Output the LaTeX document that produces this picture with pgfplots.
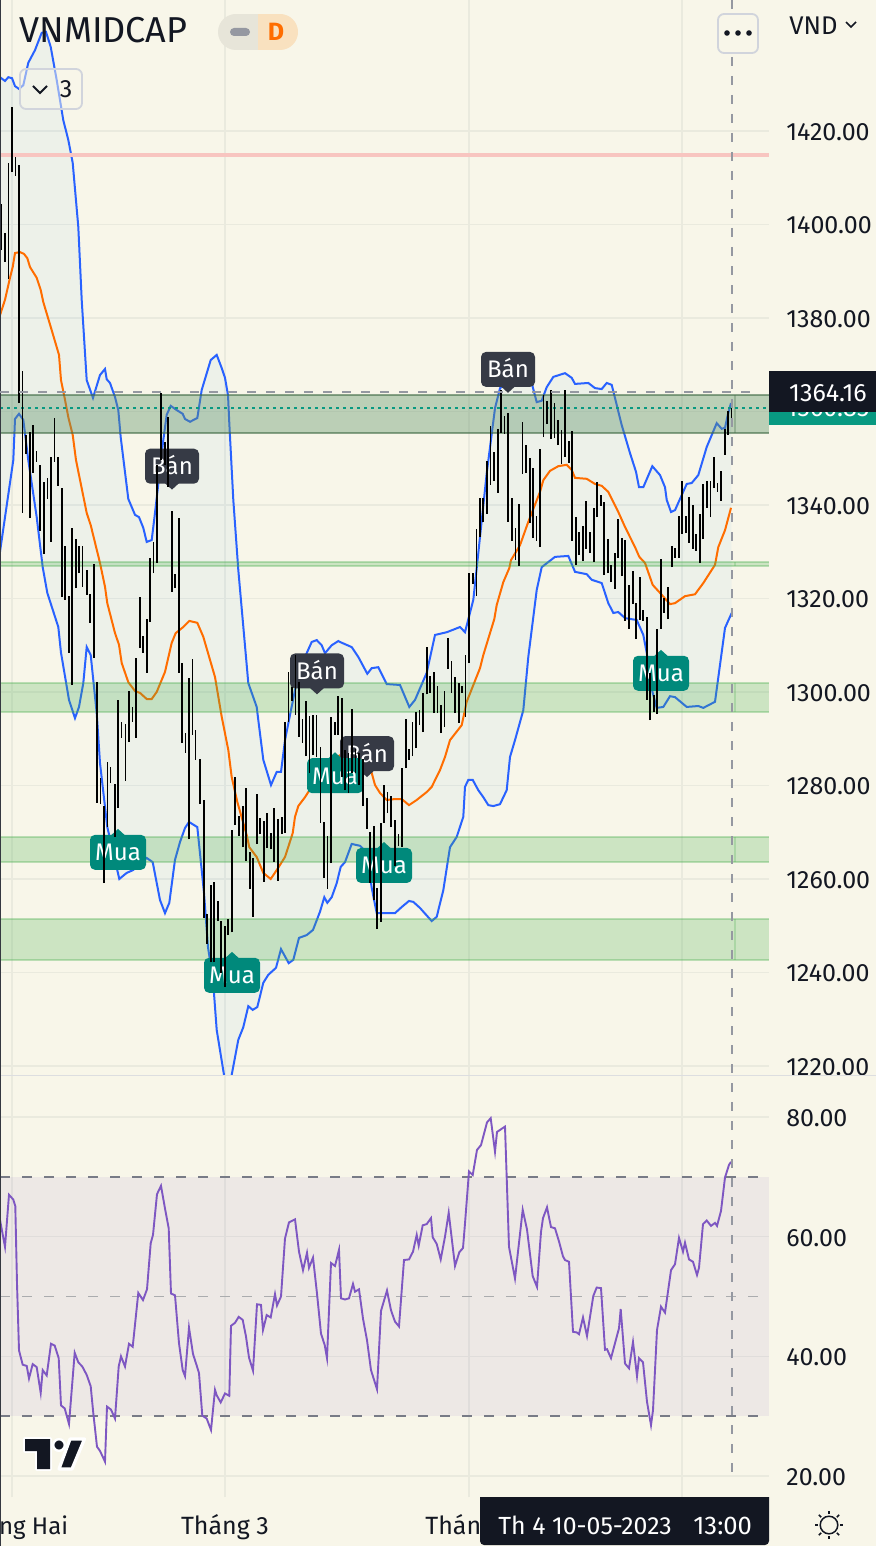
\documentclass[border=0pt]{standalone}
\usepackage{fontspec}
\setmainfont{Fira Sans}
\usepackage{pgfplots}
\usepackage{pgfplotstable}
\pgfplotsset{compat=1.18}
\definecolor{bgc}{RGB}{248,246,233}
\definecolor{gridc}{RGB}{234,234,222}
\definecolor{darkc}{RGB}{19,23,34}
\definecolor{banc}{RGB}{54,58,69}
\definecolor{muac}{RGB}{0,137,123}
\definecolor{bluec}{RGB}{41,98,255}
\definecolor{orc}{RGB}{255,109,0}
\definecolor{purc}{RGB}{126,87,194}
\definecolor{zonec}{RGB}{76,175,80}
\definecolor{zgray}{RGB}{120,123,134}
\definecolor{crossc}{RGB}{149,152,161}
\definecolor{tealc}{RGB}{8,153,129}
\definecolor{btnc}{RGB}{209,212,220}
\definecolor{bandc}{RGB}{33,150,243}
\definecolor{pinkc}{RGB}{248,197,192}

\pgfplotstableread{
x l h
1.3 1394.5 1404.4
5 1392.0 1398.2
8.7 1388.3 1413.2
12 1411.2 1425.1
15.7 1410.4 1414.5
19 1361.8 1412.7
22.7 1338.3 1368.7
26 1350.9 1355.0
30 1337.2 1355.6
33 1346.9 1357.1
36.7 1349.3 1351.6
40 1334.4 1348.6
44 1329.5 1344.9
47.7 1341.3 1345.8
51 1332.1 1350.3
54.7 1349.3 1358.6
58 1344.1 1350.3
62 1320.3 1343.6
65 1319.7 1331.2
69 1308.4 1320.5
72 1301.5 1335.1
76 1322.2 1332.7
79 1325.4 1331.2
82.7 1322.5 1331.2
87 1320.8 1326.1
90 1314.8 1321.0
94 1307.3 1327.4
97 1276.3 1302.1
100.7 1276.0 1281.6
104 1259.1 1275.6
107.7 1271.1 1285.0
110.7 1280.5 1284.0
115 1269.0 1280.3
118 1275.2 1298.3
121.7 1290.2 1293.6
125.7 1281.0 1293.2
129 1289.3 1300.2
132.7 1293.6 1296.8
136 1290.2 1307.3
140 1309.4 1320.3
143 1308.4 1312.0
147 1304.1 1315.6
150 1315.0 1328.7
153.7 1325.4 1332.1
157 1327.6 1348.6
161 1349.6 1363.9
165 1348.6 1353.5
168 1343.9 1358.8
172 1321.4 1338.7
175 1322.2 1325.2
179 1304.1 1337.2
182 1289.1 1306.2
185.7 1287.0 1291.2
189 1268.5 1303.0
192.7 1290.8 1307.1
195.7 1285.5 1291.9
200 1276.0 1285.7
204 1251.7 1276.9
207 1246.1 1252.5
211 1242.2 1258.7
214 1242.2 1259.4
218 1251.0 1255.3
221 1239.9 1251.0
225 1236.9 1250.0
228 1248.0 1251.4
232 1248.6 1270.5
235 1271.5 1281.8
239 1269.2 1273.5
243 1266.8 1275.6
246 1263.9 1279.5
250 1257.9 1265.8
253 1251.9 1264.5
257 1267.5 1278.2
260 1269.6 1273.0
264 1259.4 1272.4
267 1266.6 1274.1
271 1266.4 1269.8
274 1263.6 1275.2
278 1259.6 1272.8
282 1269.6 1273.3
285 1269.8 1293.6
288.7 1293.6 1304.3
292 1298.1 1301.1
295.7 1295.1 1307.9
299 1290.4 1302.1
302.7 1289.1 1294.2
306 1286.3 1298.1
309.7 1282.7 1294.9
313 1286.5 1295.1
316.7 1286.1 1295.1
320.7 1272.0 1288.2
324 1260.2 1272.2
327.7 1257.9 1269.2
331 1263.4 1294.7
335 1290.8 1293.6
338 1290.8 1299.1
342 1281.8 1298.7
345 1279.0 1287.6
348.7 1278.4 1287.0
352 1282.7 1296.4
355.7 1282.7 1287.8
359 1280.1 1287.0
363 1275.6 1285.7
367 1270.7 1277.3
370 1259.1 1270.0
374 1255.5 1271.3
377 1249.3 1258.1
381 1250.8 1272.0
384 1272.0 1280.1
387.7 1274.1 1278.6
391 1271.1 1277.8
395 1262.8 1272.6
398.7 1267.0 1269.6
402 1266.8 1283.7
406 1283.7 1294.2
409 1285.5 1287.8
412.7 1286.3 1293.6
416 1288.0 1295.7
419.7 1292.9 1296.1
423 1291.4 1299.8
427 1299.5 1309.6
430 1299.8 1303.4
434 1295.5 1304.3
437.7 1295.5 1301.3
441 1291.2 1297.2
444.7 1292.5 1300.2
448 1304.9 1311.5
451.7 1299.8 1306.6
455 1295.5 1303.2
459 1293.4 1301.9
462 1299.8 1301.3
465.7 1294.7 1307.9
469 1306.2 1325.4
473 1323.1 1325.4
476.7 1320.5 1334.9
480 1333.1 1341.5
483 1336.4 1341.5
487 1338.1 1349.4
490.7 1344.3 1356.9
494 1345.1 1351.3
498 1342.6 1356.3
501 1355.4 1364.6
504.7 1355.2 1359.0
508 1336.4 1359.6
512 1332.3 1341.5
515.7 1328.2 1335.1
519 1326.9 1340.2
522.7 1346.6 1357.8
526 1346.9 1352.8
530 1336.1 1350.1
533 1332.9 1347.9
536.7 1332.3 1337.6
540 1331.0 1352.0
543.7 1354.5 1363.5
547 1357.3 1362.2
551 1354.1 1364.6
554.7 1354.3 1361.8
558 1352.8 1358.2
561.7 1348.8 1356.0
565 1350.3 1364.6
569 1349.0 1353.7
572 1332.3 1355.8
576 1327.2 1337.4
579 1329.3 1334.2
583 1328.0 1335.5
586 1330.6 1340.9
590 1329.7 1334.2
594 1327.8 1339.4
597 1337.4 1344.9
601 1339.8 1342.1
604 1325.0 1340.6
608 1325.4 1332.7
611 1323.5 1327.2
615 1322.0 1329.7
618 1328.7 1337.0
622 1324.8 1332.9
625 1315.2 1332.5
629 1313.5 1322.9
633 1318.8 1325.9
636 1311.3 1319.0
640 1315.4 1324.6
643 1315.2 1317.5
647 1298.3 1316.0
650 1294.0 1304.1
654 1295.7 1299.4
657 1295.3 1313.5
661 1313.5 1328.5
664 1316.9 1320.1
668 1315.6 1322.5
672 1326.7 1331.2
675 1328.7 1330.8
679 1328.7 1337.6
682 1333.8 1345.1
686 1334.0 1337.6
689 1331.9 1341.7
693 1330.6 1340.0
696 1330.2 1333.8
700 1327.6 1338.1
703 1332.7 1344.5
707 1339.4 1345.1
710.7 1337.4 1345.1
714 1343.6 1350.3
717.7 1342.8 1344.7
721 1340.9 1347.3
725 1350.7 1356.3
728 1355.0 1360.1
731.7 1358.6 1361.2
}\barsT

\pgfplotstableread{
x y
0 1431.5
5 1430.7
8.3 1431.5
12 1431.3
15 1429.6
19 1429.0
23.3 1429.8
28.3 1434.6
35 1437.3
41.7 1441.0
46 1441.2
50.7 1438.0
56.7 1430.9
63.3 1422.3
68.3 1418.1
72.7 1413.2
78.3 1399.5
81.7 1383.9
86.7 1366.7
93 1362.9
100 1367.8
105 1369.1
106.7 1366.9
110 1366.1
115 1363.1
118.3 1360.3
120.7 1354.5
128.3 1341.3
135 1337.9
139 1337.4
143.3 1335.1
146.7 1332.1
151.7 1332.5
155 1338.3
163.3 1353.9
166.7 1359.3
170.7 1361.2
176.7 1360.3
182.7 1359.5
185 1358.4
190 1357.8
197.3 1358.6
201.7 1364.6
210.7 1371.0
216.7 1372.1
221.7 1369.3
225 1367.2
228 1363.5
229.3 1357.5
233.3 1341.1
238.3 1326.1
248.3 1301.9
256.7 1296.8
258.3 1294.0
263.3 1285.5
271 1280.1
276.7 1282.9
281 1282.9
285 1289.7
289 1294.0
295 1300.4
300 1304.3
305 1307.5
311.7 1310.7
316.7 1311.1
321.7 1310.0
325 1308.3
331.7 1310.0
338.3 1310.9
340 1310.7
351.7 1309.6
358.3 1307.5
367.3 1303.9
371.7 1305.1
378.3 1305.3
386.7 1301.7
400 1301.5
409.3 1296.8
415 1298.3
426.7 1304.1
435 1312.2
447 1312.8
460 1313.9
465 1312.8
473.3 1319.7
478.3 1329.7
486.7 1346.8
495 1360.7
500 1365.0
515 1367.2
531.7 1366.1
536.7 1362.0
541.7 1362.3
546.7 1365.2
553.3 1367.4
565 1368.2
571.7 1367.2
575 1365.9
588.3 1366.1
595 1365.0
601.7 1364.8
606.7 1366.1
611.7 1365.7
621.7 1357.1
630 1351.1
636 1347.1
639 1343.8
643.3 1343.8
652.3 1348.3
660 1346.4
665 1343.8
666.7 1341.1
671 1338.5
675 1338.9
686.7 1344.5
691.7 1344.7
698.3 1346.4
706.7 1352.4
716.7 1357.5
721.7 1356.3
725 1356.5
727.7 1359.2
731 1361.8
}\upperT

\pgfplotstableread{
x y
0 1330.0
13.3 1349.6
15 1358.4
19 1359.5
23.3 1358.2
28.3 1349.6
36.7 1337.4
42.7 1326.7
47.3 1321.2
58.3 1313.9
61 1308.4
69 1298.3
75 1294.4
79 1296.8
83.3 1301.9
86.7 1309.6
90.7 1307.9
96.7 1295.5
100 1284.8
107.3 1271.1
119.3 1260.0
126.7 1261.3
133 1261.9
146.7 1264.5
152.7 1263.6
160 1255.5
165 1252.7
169.3 1254.9
175 1264.1
180 1267.9
185 1270.9
189 1272.2
197.3 1271.1
201.7 1261.9
204 1257.0
208 1245.4
213 1238.4
216.7 1227.7
224 1218.1
226 1215.9
230 1215.9
231.7 1218.1
238.3 1225.6
243.3 1228.3
248.3 1232.8
252.7 1232.0
257.3 1232.6
263.3 1237.8
268.3 1239.5
276 1241.0
281 1245.0
288.7 1242.0
293.3 1242.7
299 1247.4
306.7 1248.0
313 1249.1
320 1253.0
324.3 1256.1
327.3 1254.9
331.7 1256.1
336.7 1259.1
340.7 1262.6
345 1263.6
351.7 1267.5
360 1267.1
367 1265.6
371.7 1258.1
376.7 1252.7
395 1252.7
401.7 1254.0
409 1255.3
413.3 1255.1
420 1253.8
431.7 1251.0
436.7 1251.9
443.3 1257.6
450 1266.8
456.7 1269.0
463.3 1273.3
465 1279.7
468.3 1281.2
472.7 1281.2
478.3 1279.0
483.3 1277.5
488.3 1275.8
493.3 1275.6
500 1276.0
506.7 1279.0
510 1286.1
515 1289.7
523.3 1296.1
528.3 1307.5
536.7 1321.8
541.7 1326.7
548.3 1327.8
555 1328.9
568.3 1329.1
575 1325.7
586.7 1325.2
591.7 1324.0
601.7 1323.3
608.3 1319.0
613.3 1316.9
618.3 1317.1
625 1315.8
636.7 1315.4
643.3 1312.2
646.7 1308.4
652 1300.4
656.7 1296.6
663.3 1296.8
670 1299.1
675 1298.9
686.7 1296.8
698.3 1297.0
703.3 1296.6
715 1297.9
725 1313.7
731.7 1316.9
}\lowerT

\pgfplotstablesort[sort key=x,sort cmp=float >]{\lowerR}{\lowerT}
\pgfplotstablevertcat{\bandT}{\upperT}
\pgfplotstablevertcat{\bandT}{\lowerR}

\pgfplotstableread{
x y
0 1380.6
5 1383.9
10 1388.6
12.7 1390.9
15 1393.9
20 1394.1
24 1393.7
27.3 1392.8
30 1390.9
36.7 1388.6
40.7 1386.0
43.3 1383.4
51.7 1377.4
59 1372.1
61 1366.7
65 1362.5
68.3 1358.8
72.7 1355.0
76 1349.6
86.7 1338.3
90.7 1335.7
100 1327.6
105 1322.5
107.3 1319.0
115 1312.6
119 1310.1
121.7 1306.2
128.3 1302.1
135 1300.2
140 1299.8
146.7 1298.5
151.7 1298.5
156.7 1300.0
165 1304.3
171.7 1310.5
175.7 1312.6
183.3 1313.9
189.3 1315.2
197.3 1314.8
203.3 1311.8
215 1303.2
221.7 1294.7
228.3 1287.6
231.7 1281.8
237.3 1276.5
246.7 1269.4
249.3 1266.8
256.7 1264.7
263.3 1261.3
270.7 1260.0
276.7 1261.9
285 1264.7
292.7 1269.8
295 1273.3
298.3 1275.6
305 1277.5
308.3 1278.6
320 1281.2
335 1285.9
350 1287.6
360 1287.2
371.7 1282.7
375 1280.1
380 1278.4
386.7 1276.9
395 1277.1
401.7 1277.1
409 1275.8
416.7 1276.9
426.7 1278.6
431.7 1279.7
440 1283.3
445 1286.1
450 1289.7
461.7 1292.9
466.7 1297.9
480 1305.1
483.3 1307.9
494.3 1315.6
496.7 1318.6
503.3 1323.5
509.3 1326.5
511 1328.2
520 1331.4
528.3 1336.4
540 1342.8
543.3 1345.3
550 1347.3
558.3 1348.3
566.7 1348.6
571.7 1347.5
575 1345.8
586.7 1345.6
595 1344.5
601.7 1344.1
608.3 1342.8
618.3 1338.5
625 1335.3
635 1331.0
639.3 1328.9
645 1327.6
652.7 1322.9
660 1321.2
670 1318.8
675 1319.0
685 1320.5
695 1320.9
703.3 1323.3
715 1327.2
718.3 1331.0
725 1334.6
731 1339.4
}\midT

\pgfplotstableread{
x y
0 62.8
5 58.3
9 67.0
13.3 66.2
15.3 65.1
17 52.2
19 41.0
22.7 38.6
26.7 38.4
29 36.3
32.7 38.7
36.7 38.2
40.7 33.9
42.7 37.7
46.7 36.8
51 42.1
54.7 41.8
58.7 39.7
61 31.8
64.7 31.3
69 28.7
74.7 40.6
78.3 39.0
82.3 38.3
86.7 36.9
90.7 35.0
93.3 30.5
97 24.9
100 24.2
105 22.4
107 31.6
111 31.1
115 29.6
118.7 38.3
121 40.0
125 38.3
129 42.1
132.7 41.6
138.3 50.6
143 49.4
147 51.2
150.7 58.9
153 60.3
157 67.1
161 68.5
165 64.7
168.7 61.4
171 50.5
175 50.2
179 42.2
182.7 37.7
185 36.7
189 44.8
193 40.4
197 38.3
199 37.2
202.3 30.1
206.7 29.6
211 27.7
215 34.4
216.7 33.5
220.7 32.3
225 33.8
229.3 33.4
231 45.1
235 45.6
238.7 46.6
242.7 46.1
246 43.3
249 39.8
253 37.6
257 48.7
261 48.6
263 44.4
266.7 46.9
270.7 46.5
275 50.4
277 48.5
281 50.0
285 59.7
289 62.4
295 62.9
299 57.5
303 54.4
307 57.3
309 54.8
313 56.5
317 50.5
321 43.8
324.7 41.9
327 39.7
331 55.6
335 55.1
339 57.8
341 49.7
345 49.5
349 49.7
353 52.1
355 50.8
359 51.2
363 46.3
367 42.7
371 37.7
377 34.5
381 47.6
387 51.0
391 47.7
395 45.8
399 45.0
404 56.1
409 56.2
413 57.5
416.7 60.3
418.7 58.5
422.7 61.9
426.7 62.1
431 63.1
432.7 59.9
436.7 58.8
440.7 56.2
445 60.0
448.7 64.0
455 55.1
459.3 57.4
463 58.1
465 62.2
469 70.9
472.7 70.3
477 74.5
481 75.3
487 79.1
490.7 79.8
495 74.2
497 77.5
505 78.4
509 58.3
515 53.0
522.7 64.5
527 61.2
532.7 53.4
537 51.6
541 60.8
543 63.1
547 64.9
551 61.6
555 61.4
559 59.2
563 56.7
565 56.1
569 55.8
573 44.1
576.7 44.0
579 43.7
583 46.5
587 43.4
593.3 50.1
596.7 51.5
601 51.4
605 41.1
607 41.2
611 39.7
619 44.7
620.7 47.9
625 38.8
629 38.0
633 42.4
637 36.7
639 39.7
643 39.0
647 32.4
651 28.5
653 31.0
657 44.4
661 48.3
665 47.3
671 54.4
675 55.4
679 59.8
683 57.5
685 59.0
689 56.2
693 55.8
697 53.6
699 54.8
703 62.1
706.7 62.7
711 61.8
715 62.3
717 61.8
721 64.3
725 69.9
729 72.0
731 72.5
}\rsiT

\newcommand\ban[2]{%
  \fill[banc] (axis cs:#1,#2) ++(-3.5pt,-8.5pt) -- ++(3.5pt,-3.2pt) -- ++(3.5pt,3.2pt) -- cycle;
  \node[fill=banc,rounded corners=2.5pt,minimum width=27pt,minimum height=17.5pt,inner sep=0pt,text=white,font=\fontsize{12}{12}\selectfont,text height=8.5pt,text depth=0pt] at (axis cs:#1,#2) {Bán};}
\newcommand\mua[2]{%
  \fill[muac] (axis cs:#1,#2) ++(-3.5pt,8.5pt) -- ++(3.5pt,3.2pt) -- ++(3.5pt,-3.2pt) -- cycle;
  \node[fill=muac,rounded corners=2.5pt,minimum width=28pt,minimum height=17.5pt,inner sep=0pt,text=white,font=\fontsize{12}{12}\selectfont,text height=8.5pt,text depth=0pt] at (axis cs:#1,#2) {Mua};}
\newcommand\zone[2]{%
  \fill[zonec,fill opacity=.25] (axis cs:0,#1) rectangle (axis cs:769,#2);
  \draw[zonec,opacity=.35,line width=.9pt] (axis cs:0,#1) -- (axis cs:769,#1);
  \draw[zonec,opacity=.35,line width=.9pt] (axis cs:0,#2) -- (axis cs:769,#2);
  \draw[zonec,opacity=.25,line width=.9pt] (axis cs:735,#1) -- (axis cs:735,#2);}

\pgfplotsset{tvaxis/.style={
  scale only axis, width=384.5pt, xmin=0, xmax=769,
  axis line style={draw=none}, major tick length=0pt,
  xtick={12,225,469,682}, xticklabels={},
  grid=major, grid style={gridc,line width=.75pt},
  extra y tick style={grid=major, grid style={gridc,line width=.75pt}},
  ytick pos=right, yticklabel pos=right,
  yticklabel style={anchor=west,inner sep=0pt,xshift=8.5pt,yshift=-.5pt,text=darkc,font=\fontsize{12.5}{13}\selectfont,
    /pgf/number format/fixed, /pgf/number format/fixed zerofill, /pgf/number format/precision=2,
    /pgf/number format/1000 sep={}, /pgf/number format/assume math mode=true},
}}

\begin{document}
\begin{tikzpicture}
\fill[bgc] (0pt,0pt) rectangle (438pt,-773pt);

\begin{axis}[tvaxis, at={(0pt,0pt)}, anchor=north west, height=537.5pt,
  ymin=1218.07, ymax=1448.02,
  ytick={1220,1240,1260,1280,1300,1320,1340,1380,1400,1420},
  extra y ticks={1360}, extra y tick labels={}]
  \addplot[draw=none, fill=bandc, fill opacity=.05, forget plot] table[x=x,y=y]{\bandT};
  \addplot[bluec, line width=1pt, forget plot] table[x=x,y=y]{\upperT};
  \addplot[bluec, line width=1pt, forget plot] table[x=x,y=y]{\lowerT};
  \addplot[orc, line width=1pt, forget plot] table[x=x,y=y]{\midT};
  % zones
  \zone{1301.9}{1295.7}
  \zone{1269.0}{1263.6}
  \zone{1251.4}{1242.7}
  \zone{1327.8}{1326.9}
  \fill[zonec,fill opacity=.25] (axis cs:0,1363.5) rectangle (axis cs:769,1355.4);
  \fill[zgray,fill opacity=.2] (axis cs:0,1363.5) rectangle (axis cs:769,1355.4);
  \draw[zgray!40!zonec!70!black,opacity=.6,line width=.9pt] (axis cs:0,1363.5) -- (axis cs:769,1363.5);
  \draw[zgray!40!zonec!70!black,opacity=.6,line width=.9pt] (axis cs:0,1355.4) -- (axis cs:769,1355.4);
  \draw[zgray!40!zonec!70!black,opacity=.3,line width=.9pt] (axis cs:735,1363.5) -- (axis cs:735,1355.4);
  % pink level and last value
  \draw[pinkc,line width=1.7pt] (axis cs:0,1414.9) -- (axis cs:769,1414.9);
  \draw[tealc,line width=.8pt,dash pattern=on 1.3pt off 2.2pt] (axis cs:0,1360.8) -- (axis cs:769,1360.8);
  % signal labels
  \ban{172}{1348.3}
  \ban{317}{1304.5}
  \ban{367}{1286.8}
  \ban{508}{1369.0}
  \mua{118}{1265.7}
  \mua{335}{1282.1}
  \mua{384}{1262.9}
  \mua{232}{1239.4}
  \mua{661}{1304.0}
  % bars
  \addplot[draw=none, mark=none, forget plot,
    error bars/.cd, y dir=plus, y explicit, error mark=none,
    error bar style={black,line width=.75pt}]
    table[x=x,y=l,y error expr=\thisrow{h}-\thisrow{l}]{\barsT};
\end{axis}

\begin{axis}[tvaxis, at={(0pt,-538pt)}, anchor=north west, height=210.5pt,
  ymin=16.49, ymax=86.85, ytick={20,40,60,80}]
  \fill[purc,fill opacity=.085] (axis cs:0,70) rectangle (axis cs:769,30);
  \draw[zgray,line width=.9pt,dash pattern=on 5pt off 6pt] (axis cs:0,70) -- (axis cs:769,70);
  \draw[zgray,line width=.9pt,dash pattern=on 5pt off 6pt] (axis cs:0,30) -- (axis cs:769,30);
  \draw[zgray!60!bgc,line width=.9pt,dash pattern=on 5pt off 6pt] (axis cs:0,50) -- (axis cs:769,50);
  \addplot[purc, line width=.95pt, forget plot] table[x=x,y=y]{\rsiT};
\end{axis}

\begin{scope}[x=0.5pt,y=-0.5pt]
  % pane separator and left edge
  \draw[btnc!70!bgc,line width=.9pt] (0,1075.5) -- (876,1075.5);
  \draw[darkc!85!bgc,line width=.9pt] (0.4,0) -- (0.4,1546);
  % crosshair
  \draw[crossc,line width=1pt,dash pattern=on 4.5pt off 5pt] (732,0) -- (732,1497);
  \draw[crossc,line width=1pt,dash pattern=on 4.5pt off 5pt] (0,392) -- (759,392);
  % price tags
  \fill[tealc] (769,392) rectangle (876,425);
  \node[text=white,font=\fontsize{12.5}{13}\selectfont,anchor=base] at (828,416) {1360.85};
  \fill[darkc] (769,371) rectangle (876,412);
  \node[text=white,font=\fontsize{12.5}{13}\selectfont,anchor=base] at (828,401) {1364.16};
  % title bar
  \node[text=darkc,font=\fontsize{18}{19}\selectfont,anchor=base west,inner sep=0pt] at (19,43) {VNMIDCAP};
  \begin{scope}
    \clip[rounded corners=9pt] (218,14) rectangle (298,50);
    \fill[black!7!bgc] (218,14) rectangle (258,50);
    \fill[orange!18!bgc] (258,14) rectangle (298,50);
  \end{scope}
  \fill[crossc,rounded corners=2pt] (230,28) rectangle (250,36);
  \node[text=orc,font=\fontsize{12.5}{14}\selectfont\bfseries,anchor=base] at (276,41) {D};
  \filldraw[fill=bgc,fill opacity=.5,draw=btnc,line width=.9pt,rounded corners=3pt] (20,69) rectangle (82,109);
  \draw[darkc,line width=.9pt] (33,86) -- (40,93) -- (47,86);
  \node[text=darkc,font=\fontsize{12.5}{14}\selectfont,anchor=base] at (66,98) {3};
  \filldraw[fill=bgc,draw=btnc,line width=.9pt,rounded corners=3pt] (718,14) rectangle (758,53);
  \foreach \d in {727,738,749} \fill[darkc] (\d,33) circle (1.4pt);
  \node[text=darkc,font=\fontsize{12.8}{14}\selectfont,anchor=base west,inner sep=0pt] at (789,35) {VND};
  \draw[darkc,line width=.8pt] (846,22) -- (851,27) -- (856,22);
  % time scale
  \node[text=darkc,font=\fontsize{12}{14}\selectfont,anchor=base east,inner sep=0pt] at (68.5,1534) {ng Hai};
  \node[text=darkc,font=\fontsize{12.5}{14}\selectfont,anchor=base] at (225,1534) {Tháng 3};
  \node[text=darkc,font=\fontsize{12.5}{14}\selectfont,anchor=base west,inner sep=0pt] at (425,1534) {Thán};
  \fill[darkc,rounded corners=2pt] (480,1490) -- (480,1545) -- (769,1545) -- (769,1490) -- cycle;
  \fill[bgc] (478,1480) rectangle (771,1497);
  \draw[gridc,line width=.75pt] (682,1476) -- (682,1497);
  \node[text=white,font=\fontsize{12.4}{14}\selectfont,anchor=base west,inner sep=0pt] at (498,1534) {Th 4 10-05-2023};
  \node[text=white,font=\fontsize{12.8}{14}\selectfont,anchor=base west,inner sep=0pt] at (693,1534) {13:00};
  % logo
  \begin{scope}
    \filldraw[darkc,draw=white,line width=1.6pt,line join=round] (25,1439) -- (50,1439) -- (50,1469) -- (37,1469) -- (37,1451) -- (25,1451) -- cycle;
    \filldraw[darkc,draw=white,line width=1.6pt,line join=round] (70,1439) -- (84.5,1439) -- (72,1469) -- (59,1469) -- cycle;
    \filldraw[darkc,draw=white,line width=1.2pt] (59,1445) circle (2.9pt);
    \fill[darkc] (25,1439) -- (50,1439) -- (50,1469) -- (37,1469) -- (37,1451) -- (25,1451) -- cycle;
  \end{scope}
  % settings icon
  \draw[darkc,line width=.75pt] (829,1525) circle (4.4pt);
  \foreach \a in {0,45,...,315} \draw[darkc,line width=.75pt] (829,1525) ++(\a:5.5pt) -- ++(\a:1.7pt);
\end{scope}
\pgfresetboundingbox
\useasboundingbox (0pt,0pt) rectangle (438pt,-773pt);
\end{tikzpicture}
\end{document}
